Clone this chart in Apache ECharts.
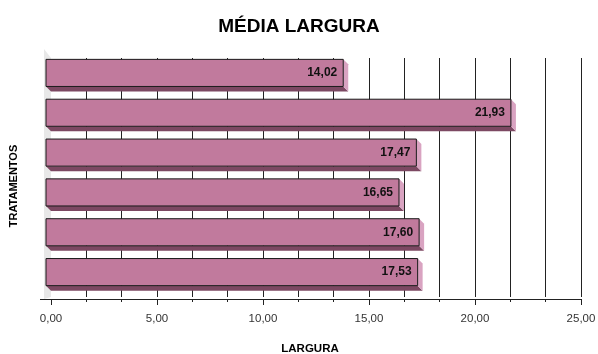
<!DOCTYPE html>
<html>
<head>
<meta charset="utf-8">
<script src="https://cdn.jsdelivr.net/npm/echarts@6/dist/echarts.min.js"></script>
<style>
  html, body { margin: 0; padding: 0; background: #ffffff; }
  #chart { width: 598px; height: 354px; }
</style>
</head>
<body>
<div id="chart"></div>
<script>
// Treatments, listed top to bottom
const categories = ['T1', 'T2', 'T3', 'T4', 'T5', 'T6'];
// Mean width per treatment
const values = [14.02, 21.93, 17.47, 16.65, 17.60, 17.53];
// Axis range and label step
const axisMin = 0;
const axisMax = 25;
const axisStep = 5;

const FACE = '#c17a9d';
const SIDE = '#d9a3c1';
const UNDER = '#7c4862';
const DEPTH = 5;

const fmt = v => v.toFixed(2).replace('.', ',');

function renderBar(params, api) {
  const v = api.value(0);
  const c = api.value(1);
  const start = api.coord([0, c]);
  const end = api.coord([v, c]);
  const band = api.size([0, 1])[1];
  const h = band * 0.68;
  const d = DEPTH;
  const cy = start[1];
  const fx0 = start[0] - d;
  const fx1 = end[0] - d;
  const fy0 = cy - h / 2 - d;
  const fy1 = fy0 + h;
  return {
    type: 'group',
    children: [
      {
        type: 'polygon',
        shape: { points: [[fx0, fy1], [fx1, fy1], [fx1 + d, fy1 + d], [fx0 + d, fy1 + d]] },
        style: { fill: UNDER }
      },
      {
        type: 'polygon',
        shape: { points: [[fx1, fy0], [fx1 + d, fy0 + d], [fx1 + d, fy1 + d], [fx1, fy1]] },
        style: { fill: SIDE }
      },
      {
        type: 'rect',
        shape: { x: fx0, y: fy0, width: fx1 - fx0, height: h },
        style: { fill: FACE, stroke: '#1a1a1a', lineWidth: 1 }
      },
      {
        type: 'text',
        x: fx1 - 6,
        y: (fy0 + fy1) / 2,
        style: {
          text: fmt(v),
          align: 'right',
          verticalAlign: 'middle',
          fill: '#111',
          font: 'bold 12px "Liberation Sans", Arial, sans-serif'
        }
      }
    ]
  };
}

const chart = echarts.init(document.getElementById('chart'), null, { renderer: 'canvas' });

const option = {
  animation: false,
  backgroundColor: '#ffffff',
  textStyle: { fontFamily: '"Liberation Sans", Arial, sans-serif' },
  title: {
    text: 'MÉDIA LARGURA',
    left: 'center',
    top: 12,
    textStyle: { fontSize: 19, fontWeight: 'bold', color: '#000' }
  },
  grid: { left: 51, right: 17, top: 58, bottom: 57, outerBoundsMode: 'none' },
  xAxis: {
    type: 'value',
    min: axisMin,
    max: axisMax,
    interval: axisStep,
    offset: 2,
    name: 'LARGURA',
    nameLocation: 'middle',
    nameGap: 44,
    nameTextStyle: { fontSize: 11.5, fontWeight: 'bold', color: '#000', verticalAlign: 'top', padding: [0, 12, 0, 0] },
    axisLine: { show: true, lineStyle: { color: '#222', width: 1 } },
    axisTick: { show: true, length: 6, lineStyle: { color: '#222' } },
    minorTick: { show: true, splitNumber: 3, length: 3, lineStyle: { color: '#222' } },
    axisLabel: { margin: 14, fontSize: 11.5, color: '#333', formatter: v => fmt(v) },
    splitLine: { show: true, showMinLine: false, lineStyle: { color: '#222', width: 1 } },
    minorSplitLine: { show: true, lineStyle: { color: '#222', width: 1 } }
  },
  yAxis: {
    type: 'category',
    inverse: true,
    data: categories,
    name: 'TRATAMENTOS',
    nameLocation: 'middle',
    nameRotate: 90,
    nameGap: 32,
    nameTextStyle: { fontSize: 11, fontWeight: 'bold', color: '#000', padding: [0, 17, 0, 0] },
    axisLine: { show: false },
    axisTick: { show: false },
    axisLabel: { show: false },
    splitLine: { show: false }
  },
  series: [{
    type: 'custom',
    renderItem: renderBar,
    encode: { x: 0, y: 1 },
    data: values.map((v, i) => [v, i]),
    z: 5
  }]
};

chart.setOption(option);

// Side wall and front floor edge of the 3D box
const rect = chart.getModel().getComponent('grid', 0).coordinateSystem.getRect();
const wx = rect.x, wy0 = rect.y, wy1 = rect.y + rect.height;
chart.setOption({
  graphic: [
    {
      type: 'polygon',
      z: 0,
      silent: true,
      shape: { points: [[wx - 7, wy0 - 9], [wx, wy0], [wx, wy1], [wx - 7, wy1 + 2]] },
      style: { fill: '#e8e8e8' }
    },
    {
      type: 'line',
      z: 1,
      silent: true,
      shape: { x1: wx - 11, y1: wy1 + 2.5, x2: wx, y2: wy1 + 2.5 },
      style: { stroke: '#222', lineWidth: 1 }
    }
  ]
});
</script>
</body>
</html>
